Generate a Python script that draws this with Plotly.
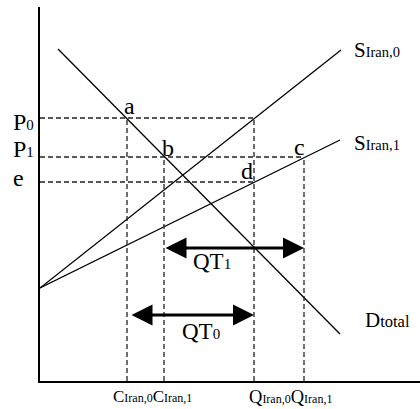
import plotly.graph_objects as go

# quantities / prices (q = horizontal, p = vertical)
demand_q = [18, 300]
demand_p = [332, 47]
supply0_q = [0, 301]
supply0_p = [93, 331]
supply1_q = [0, 300]
supply1_p = [93, 241]

price_levels = {"P0": 263, "P1": 224, "e": 199}
c_iran0, c_iran1 = 87, 124
q_iran0, q_iran1 = 214, 264
qt1_level, qt0_level = 133, 66

Q_MAX, P_MAX = 380, 374
FONT = "Liberation Serif"
line = dict(color="black", width=1.3)
dash = dict(color="#222", width=1.3, dash="5px,3px")


def small(txt, size):
    # smaller text sitting on the same baseline, as in the original drawing
    return f'<span style="font-size:{size}px">{txt}</span>'


fig = go.Figure()
fig.add_trace(go.Scatter(x=demand_q, y=demand_p, mode="lines", line=line))
fig.add_trace(go.Scatter(x=supply0_q, y=supply0_p, mode="lines", line=line))
fig.add_trace(go.Scatter(x=supply1_q, y=supply1_p, mode="lines", line=line))

# dashed guides
p0, p1, pe = price_levels["P0"], price_levels["P1"], price_levels["e"]
guides = [
    ([0, q_iran0], [p0, p0]),
    ([0, q_iran1], [p1, p1]),
    ([0, q_iran0], [pe, pe]),
    ([c_iran0, c_iran0], [0, p0]),
    ([c_iran1, c_iran1], [0, p1]),
    ([q_iran0, q_iran0], [0, p0]),
    ([q_iran1, q_iran1], [0, p1]),
]
for gx, gy in guides:
    fig.add_trace(go.Scatter(x=gx, y=gy, mode="lines", line=dash))

# quota arrows
for x0, x1, lvl in [(c_iran1, q_iran1, qt1_level), (c_iran0 + 3, q_iran0, qt0_level)]:
    fig.add_annotation(x=x1, y=lvl, ax=x0, ay=lvl, xref="x", yref="y",
                       axref="x", ayref="y", text="", showarrow=True,
                       arrowhead=2, startarrowhead=2, arrowside="end+start",
                       arrowwidth=3, arrowsize=1.4, startarrowsize=1.4,
                       arrowcolor="black", standoff=0, startstandoff=0)

# labels inside the plot area (data coordinates, anchored at their top)
labels = [
    ("a", 89.5, 290, "center", 24),
    ("b", 127.5, 248, "center", 24),
    ("c", 259, 249, "center", 24),
    ("d", 206.7, 225, "center", 24),
    ("S" + small("Iran,0", 14.5), 312, 345, "left", 21),
    ("S" + small("Iran,1", 14.5), 312, 252, "left", 21),
    ("D" + small("total", 16.5), 323, 75, "left", 21),
    ("QT" + small("1", 15), 150.5, 134, "left", 23),
    ("QT" + small("0", 15), 139.5, 64, "left", 23),
]
for txt, lx, ly, anchor, size in labels:
    fig.add_annotation(x=lx, y=ly, xref="x", yref="y", text=txt, showarrow=False,
                       xanchor=anchor, yanchor="top",
                       font=dict(family=FONT, size=size, color="black"))

# price labels left of the vertical axis
for txt, ly in [("P" + small("0", 15), 274.5),
                ("P" + small("1", 15), 247.5),
                ("e", 218.5)]:
    fig.add_annotation(x=-29.3 / Q_MAX, y=ly, xref="paper", yref="y", text=txt,
                       showarrow=False, xanchor="left", yanchor="top",
                       font=dict(family=FONT, size=24, color="black"))

# quantity labels below the horizontal axis
cq_labels = [
    ("C" + small("Iran,0", 12) + "C" + small("Iran,1", 12), 112.5, 17),
    ("Q" + small("Iran,0", 12) + "Q" + small("Iran,1", 12), 250, 18.5),
]
for txt, lx, size in cq_labels:
    fig.add_annotation(x=lx, y=-3.6 / P_MAX, xref="x", yref="paper", text=txt,
                       showarrow=False, xanchor="center", yanchor="top",
                       font=dict(family=FONT, size=size, color="black"))

fig.update_layout(
    width=420, height=409,
    margin=dict(l=40, r=0, t=7, b=28),
    plot_bgcolor="white", paper_bgcolor="white",
    showlegend=False,
)
fig.update_xaxes(range=[0, Q_MAX], showgrid=False, zeroline=False, showticklabels=False,
                 showline=True, linecolor="black", linewidth=1.5, ticks="")
fig.update_yaxes(range=[0, P_MAX], showgrid=False, zeroline=False, showticklabels=False,
                 showline=True, linecolor="black", linewidth=1.5, ticks="")

fig.write_html("out.html", config={"displayModeBar": False},
               post_script="document.body.style.margin='0';")
